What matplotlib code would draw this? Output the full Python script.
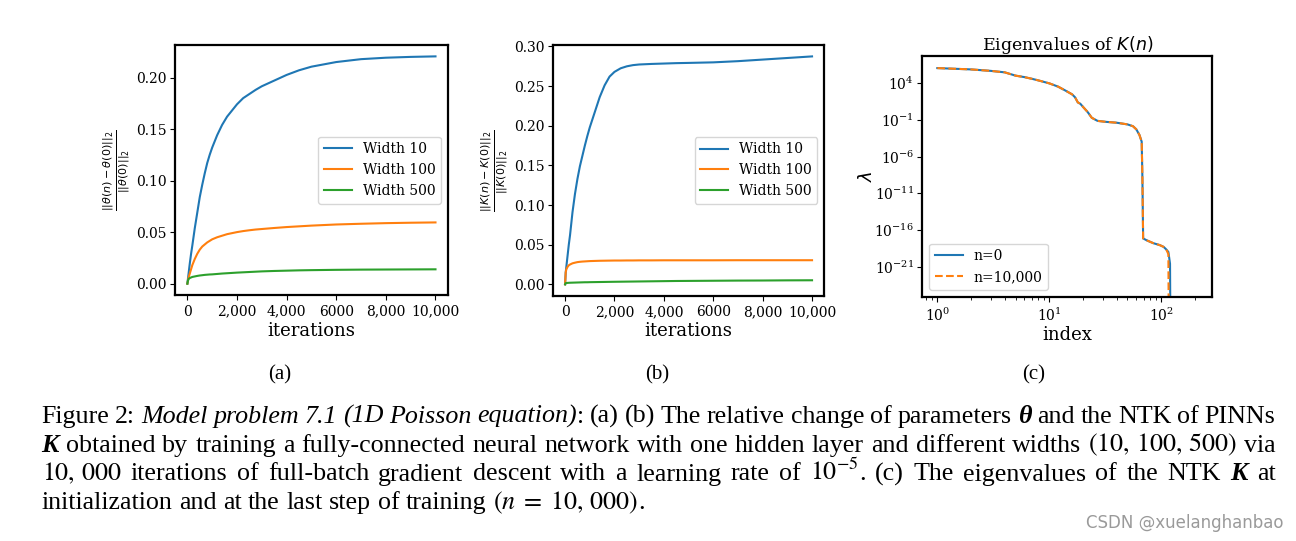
import matplotlib
matplotlib.use('Agg')
import matplotlib.pyplot as plt
from matplotlib.ticker import FixedLocator, NullLocator, FuncFormatter
from matplotlib.transforms import IdentityTransform

# %% data
iters = [0, 25, 50, 100, 150, 200, 300, 400, 500, 600, 700, 800, 900, 1000,
         1200, 1400, 1600, 1800, 2000, 2250, 2500, 2750, 3000, 3500, 4000,
         4500, 5000, 6000, 7000, 8000, 9000, 10000]

theta_w10 = [0, 0.005, 0.010, 0.020, 0.029, 0.037, 0.054, 0.069, 0.084,
             0.096, 0.107, 0.117, 0.125, 0.132, 0.144, 0.154, 0.162, 0.168,
             0.174, 0.180, 0.184, 0.188, 0.1915, 0.197, 0.2025, 0.207,
             0.2105, 0.2150, 0.2178, 0.2192, 0.2200, 0.2205]
theta_w100 = [0, 0.003, 0.006, 0.010, 0.014, 0.018, 0.024, 0.029, 0.033,
              0.036, 0.038, 0.040, 0.0415, 0.043, 0.045, 0.0465, 0.048,
              0.049, 0.050, 0.051, 0.0518, 0.0525, 0.053, 0.054, 0.0549,
              0.0556, 0.0563, 0.0574, 0.0581, 0.0587, 0.0591, 0.0594]
theta_w500 = [0, 0.003, 0.0045, 0.0055, 0.006, 0.0065, 0.007, 0.0075,
              0.0079, 0.0082, 0.0085, 0.0087, 0.0089, 0.009, 0.0094, 0.0098,
              0.0101, 0.0104, 0.0107, 0.011, 0.0113, 0.0116, 0.0119, 0.0123,
              0.0126, 0.0129, 0.0131, 0.0134, 0.0136, 0.0137, 0.0138, 0.0139]

ntk_w10 = [0, 0.015, 0.022, 0.036, 0.050, 0.062, 0.091, 0.114, 0.133,
           0.149, 0.162, 0.175, 0.187, 0.198, 0.217, 0.236, 0.251, 0.262,
           0.268, 0.2725, 0.275, 0.2765, 0.2773, 0.278, 0.2785, 0.279,
           0.2793, 0.2800, 0.2815, 0.2835, 0.2855, 0.2875]
ntk_w100 = [0, 0.015, 0.019, 0.022, 0.024, 0.025, 0.0265, 0.0273, 0.028,
            0.0284, 0.0287, 0.0289, 0.0291, 0.0293, 0.0295, 0.0297, 0.0298,
            0.0299, 0.0300, 0.0300, 0.0301, 0.0301, 0.0302, 0.0302, 0.0303,
            0.0303, 0.0303, 0.0303, 0.0304, 0.0304, 0.0304, 0.0304]
ntk_w500 = [0, 0.0015, 0.0016, 0.0018, 0.0019, 0.0020, 0.0021, 0.0022,
            0.0023, 0.0024, 0.0025, 0.0026, 0.0026, 0.0027, 0.0028, 0.0029,
            0.0030, 0.0031, 0.0032, 0.0033, 0.0034, 0.0035, 0.0036, 0.0038,
            0.0040, 0.0042, 0.0043, 0.0045, 0.0047, 0.0048, 0.0050, 0.0051]

widths = ['Width 10', 'Width 100', 'Width 500']
iter_ticks = [0, 2000, 4000, 6000, 8000, 10000]
iter_labels = ['0', '2,000', '4,000', '6000', '8,000', '10,000']

# eigenvalue index and log10(lambda)
eig_idx_0 = [1, 2, 3, 4, 5, 6, 7, 8, 10, 12, 14, 16, 17, 18, 19, 20, 22,
             24, 27, 32, 40, 50, 56, 60, 64, 67, 68, 69, 74, 85, 97, 105,
             111, 116, 118, 120, 121]
eig_log_0 = [6.08, 5.9, 5.7, 5.5, 5.05, 4.85, 4.62, 4.4, 4.0, 3.55, 3.0,
             2.5, 2.1, 1.4, 1.2, 0.8, 0.1, -0.7, -1.12, -1.25, -1.37, -1.6,
             -1.85, -2.28, -3.05, -3.96, -9.0, -17.15, -17.4, -17.8, -18.06,
             -18.3, -18.65, -19.0, -19.8, -20.6, -30.0]
eig_idx_1 = [1, 2, 3, 4, 5, 6, 7, 8, 10, 12, 14, 16, 17, 18, 19, 20, 22,
             24, 27, 32, 40, 50, 56, 60, 64, 67, 68, 69, 74, 85, 97, 105,
             111, 116, 117]
eig_log_1 = [6.08, 5.9, 5.7, 5.5, 5.05, 4.85, 4.62, 4.4, 4.0, 3.55, 3.0,
             2.5, 2.1, 1.4, 1.2, 0.8, 0.1, -0.7, -1.12, -1.25, -1.37, -1.6,
             -1.85, -2.28, -3.05, -3.96, -9.0, -17.15, -17.4, -17.8, -18.06,
             -18.3, -18.65, -19.3, -30.0]
eig_yticks = [1e4, 1e-1, 1e-6, 1e-11, 1e-16, 1e-21]

# %% style
plt.rcParams['font.family'] = ['DejaVu Serif']
plt.rcParams['axes.linewidth'] = 1.6
plt.rcParams['xtick.labelsize'] = 10
plt.rcParams['ytick.labelsize'] = 10
plt.rcParams['ytick.major.pad'] = 2.5
plt.rcParams['legend.fontsize'] = 10

fig = plt.figure(figsize=(12.96, 5.41), dpi=100)
ax_a = fig.add_axes([0.135, 0.4547, 0.2106, 0.4621])
ax_b = fig.add_axes([0.4265, 0.4534, 0.2096, 0.4634])
ax_c = fig.add_axes([0.7117, 0.4516, 0.2238, 0.4449])
pct = FuncFormatter(lambda v, p: '%.2f' % v)

# %% (a)
for vals, lab in zip([theta_w10, theta_w100, theta_w500], widths):
    ax_a.plot(iters, vals, label=lab)
ax_a.set_xticks(iter_ticks)
ax_a.set_xticklabels(iter_labels)
ax_a.set_yticks([0, 0.05, 0.10, 0.15, 0.20])
ax_a.yaxis.set_major_formatter(pct)
ax_a.set_xlabel('iterations', fontsize=13, labelpad=2)
ax_a.set_ylabel(r'$\frac{||\theta(n)-\theta(0)||_2}{||\theta(0)||_2}$',
                fontsize=11.5, labelpad=3)
ax_a.legend(loc='center right')

# %% (b)
for vals, lab in zip([ntk_w10, ntk_w100, ntk_w500], widths):
    ax_b.plot(iters, vals, label=lab)
ax_b.set_xticks(iter_ticks)
ax_b.set_xticklabels(iter_labels)
ax_b.set_yticks([0, 0.05, 0.10, 0.15, 0.20, 0.25, 0.30])
ax_b.yaxis.set_major_formatter(pct)
ax_b.set_xlabel('iterations', fontsize=13, labelpad=2)
ax_b.set_ylabel(r'$\frac{||K(n)-K(0)||_2}{||K(0)||_2}$', fontsize=11.5,
                labelpad=3)
ax_b.legend(loc='center right')

# %% (c)
ax_c.plot(eig_idx_0, [10.0 ** v for v in eig_log_0], label='n=0')
ax_c.plot(eig_idx_1, [10.0 ** v for v in eig_log_1], ls='--',
          label='n=10,000')
ax_c.set_xscale('log')
ax_c.set_yscale('log')
ax_c.set_xlim(0.735, 287)
ax_c.set_ylim(10 ** -25.1, 10 ** 7.73)
ax_c.yaxis.set_major_locator(FixedLocator(eig_yticks))
ax_c.yaxis.set_minor_locator(NullLocator())
ax_c.set_xlabel('index', fontsize=13, labelpad=2)
ax_c.set_ylabel(r'$\lambda$', fontsize=13, labelpad=-1)
ax_c.set_title(r'Eigenvalues of $K(n)$', fontsize=12.5, pad=4)
ax_c.legend(loc='lower left')

# %% sub captions and the figure caption
SERIF = 'Liberation Serif'
STYLES = {
    'rm': dict(family=SERIF),
    'it': dict(family=SERIF, style='italic'),
    'bi': dict(family=SERIF, style='italic', weight='bold'),
    'm': dict(family=SERIF, math_fontfamily='stix'),
}
CAP_SIZE = 18.7

for x, s in zip([280, 657, 1034], ['(a)', '(b)', '(c)']):
    fig.text(x / 1296, 1 - 379 / 541, s, ha='center', va='baseline',
             fontsize=15, family=SERIF)


def draw_line(words, x0, y, width=None):
    rend = fig.canvas.get_renderer()
    drawn = []
    for word in words:
        pieces = []
        for s, st in word:
            t = fig.text(0, 541 - y, s, transform=IdentityTransform(),
                         ha='left', va='baseline', fontsize=CAP_SIZE,
                         **STYLES[st])
            pieces.append((t, t.get_window_extent(rend).width))
        drawn.append(pieces)
    total = sum(w for pieces in drawn for _, w in pieces)
    if width is None:
        gap = 0.25 * CAP_SIZE * 100 / 72
    else:
        gap = (width - total) / (len(drawn) - 1)
    x = x0
    for pieces in drawn:
        for t, w in pieces:
            t.set_x(x)
            x += w
        x += gap


def words_of(text, st='rm'):
    return [[(w, st)] for w in text.split()]


line1 = (words_of('Figure 2:')
         + words_of('Model problem 7.1 (1D Poisson', 'it')
         + [[('equation)', 'it'), (':', 'rm')]]
         + words_of('(a) (b) The relative change of parameters')
         + [[('\u03b8', 'bi')]]
         + words_of('and the NTK of PINNs'))
line2 = ([[('K', 'bi')]]
         + words_of('obtained by training a fully-connected neural network '
                    'with one hidden layer and different widths')
         + [[(r'$(10,\,100,\,500)$', 'm')]]
         + words_of('via'))
line3 = ([[(r'$10,\,000$', 'm')]]
         + words_of('iterations of full-batch gradient descent with a '
                    'learning rate of')
         + [[(r'$10^{-5}$', 'm'), ('.', 'rm')]]
         + words_of('(c) The eigenvalues of the NTK')
         + [[('K', 'bi')]]
         + words_of('at'))
line4 = (words_of('initialization and at the last step of training')
         + [[(r'$(n\;=\;10,\,000)$', 'm'), ('.', 'rm')]])

draw_line(line1, 41.5, 422.7, 1234)
draw_line(line2, 41.5, 451.6, 1234)
draw_line(line3, 41.5, 480.5, 1234)
draw_line(line4, 41.5, 509.4)

fig.text(1283 / 1296, 1 - 523 / 541, 'CSDN @xuelanghanbao', ha='right',
         va='center', fontsize=12, color='#9a9a9a', family='DejaVu Sans')

fig.savefig('out.png', dpi=100)
